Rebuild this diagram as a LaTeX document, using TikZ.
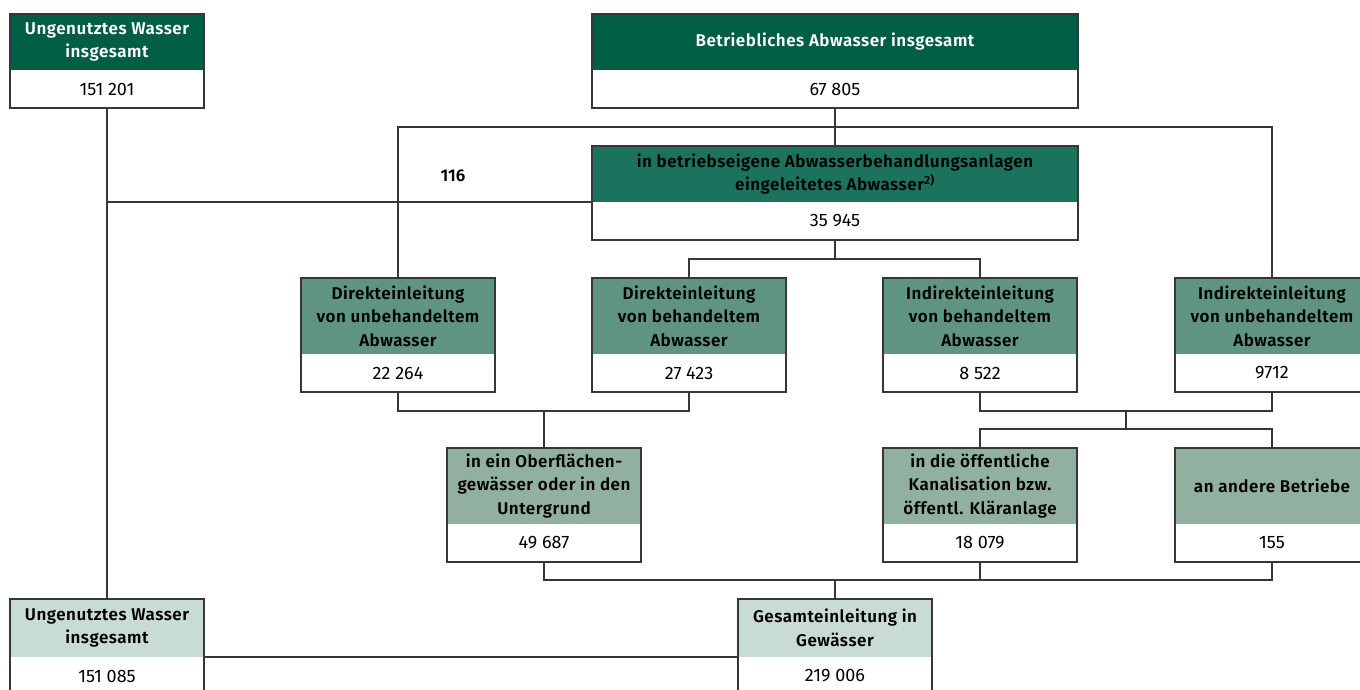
\documentclass[tikz,border=0pt]{standalone}
\usepackage{fontspec}
\setmainfont{Fira Sans}[BoldFont={* SemiBold}]
\usepackage{tikz}
\usetikzlibrary{calc}

\definecolor{gruenA}{RGB}{0,94,68}
\definecolor{gruenB}{RGB}{27,115,94}
\definecolor{gruenC}{RGB}{95,148,128}
\definecolor{gruenD}{RGB}{146,176,160}
\definecolor{gruenE}{RGB}{201,220,211}
\definecolor{linie}{RGB}{55,55,55}

% Kasten: Name, x, y, Breite, Kopfhoehe, Stil, Kopftext, Wert
\newcommand{\Kasten}[8]{%
	\node[#6,minimum width=#4,minimum height=#5,anchor=north] (#1-k) at (#2,#3) {#7};
	\node[Wert,minimum width=#4,anchor=north] (#1) at (#1-k.south) {#8};
	\draw[Rahmen] (#1-k.north west) rectangle (#1.south east);
}

\begin{document}
\begin{tikzpicture}[x=1pt,y=-1pt]
		\tikzstyle{Kopf}=[inner sep=0pt,outer sep=0pt,align=center,font=\bfseries\fontsize{17}{23.5}\selectfont\addfontfeatures{LetterSpace=3}]
		\tikzstyle{KopfA}=[Kopf,fill=gruenA,text=white]
		\tikzstyle{KopfB}=[Kopf,fill=gruenB]
		\tikzstyle{KopfC}=[Kopf,fill=gruenC]
		\tikzstyle{KopfD}=[Kopf,fill=gruenD]
		\tikzstyle{KopfE}=[Kopf,fill=gruenE]
		\tikzstyle{Wert}=[fill=white,inner sep=0pt,outer sep=0pt,minimum height=38,font=\fontsize{18}{22}\selectfont]
		\tikzstyle{Rahmen}=[draw=linie,line width=1.3pt]
		\tikzstyle{Verbindung}=[draw=linie,line width=1.3pt]
		\useasboundingbox (0,0) rectangle (1360,690);
		% obere Reihe
		\Kasten{ungenutztA}{107}{14}{194}{56}{KopfA}{Ungenutztes Wasser\\insgesamt}{151 201}
		\Kasten{betrieb}{835}{14}{486}{56}{KopfA}{Betriebliches Abwasser insgesamt}{67 805}
		\Kasten{anlagen}{835}{146}{486}{56}{KopfB}{in betriebseigene Abwasserbehandlungsanlagen\\eingeleitetes Abwasser\textsuperscript{2)}}{35 945}
		% Einleitungen
		\Kasten{direktU}{398}{278}{194}{76}{KopfC}{Direkteinleitung\\von unbehandeltem\\Abwasser}{22 264}
		\Kasten{direktB}{689}{278}{194}{76}{KopfC}{Direkteinleitung\\von behandeltem\\Abwasser}{27 423}
		\Kasten{indirektB}{980}{278}{194}{76}{KopfC}{Indirekteinleitung\\von behandeltem\\Abwasser}{8 522}
		\Kasten{indirektU}{1272}{278}{194}{76}{KopfC}{Indirekteinleitung\\von unbehandeltem\\Abwasser}{9712}
		% Ziele
		\Kasten{gewaesser}{544}{448}{194}{76}{KopfD}{in ein Oberflächen-\\gewässer oder in den\\Untergrund}{49 687}
		\Kasten{kanal}{980}{448}{194}{76}{KopfD}{in die öffentliche\\Kanalisation bzw.\\öffentl. Kläranlage}{18 079}
		\Kasten{andere}{1272}{448}{194}{76}{KopfD}{an andere Betriebe}{155}
		% untere Reihe
		\Kasten{ungenutztB}{107}{599}{194}{58}{KopfE}{Ungenutztes Wasser\\insgesamt}{151 085}
		\Kasten{gesamt}{835}{599}{194}{58}{KopfE}{Gesamteinleitung in\\Gewässer}{219 006}
		\node[font=\bfseries\fontsize{17}{20}\selectfont] (menge) at (453,176) {116};
		% Verbindungen
		\coordinate (oben) at (835,127);
		\coordinate (verteilA) at (835,259);
		\coordinate (sammelA) at (544,411);
		\coordinate (sammelB) at (1126,411);
		\coordinate (verteilB) at (1126,429);
		\coordinate (sammelC) at (835,580);
		\draw[Verbindung] (ungenutztA.south) -- (ungenutztB-k.north);
		\draw[Verbindung] (anlagen-k.south west -| ungenutztA.south) -- (anlagen-k.south west);
		\draw[Verbindung] (betrieb.south) -- (anlagen-k.north);
		\draw[Verbindung] (direktU-k.north) |- (oben) -| (indirektU-k.north);
		\draw[Verbindung] (anlagen.south) -- (verteilA);
		\draw[Verbindung] (direktB-k.north) |- (verteilA) -| (indirektB-k.north);
		\draw[Verbindung] (direktU.south) |- (sammelA) -| (direktB.south);
		\draw[Verbindung] (sammelA) -- (gewaesser-k.north);
		\draw[Verbindung] (indirektB.south) |- (sammelB) -| (indirektU.south);
		\draw[Verbindung] (sammelB) -- (verteilB);
		\draw[Verbindung] (kanal-k.north) |- (verteilB) -| (andere-k.north);
		\draw[Verbindung] (gewaesser.south) |- (sammelC) -| (andere.south);
		\draw[Verbindung] (kanal.south) -- (kanal.south |- sammelC);
		\draw[Verbindung] (sammelC) -- (gesamt-k.north);
		\draw[Verbindung] (ungenutztB-k.south east) -- (gesamt-k.south west);
	\end{tikzpicture}
\end{document}
